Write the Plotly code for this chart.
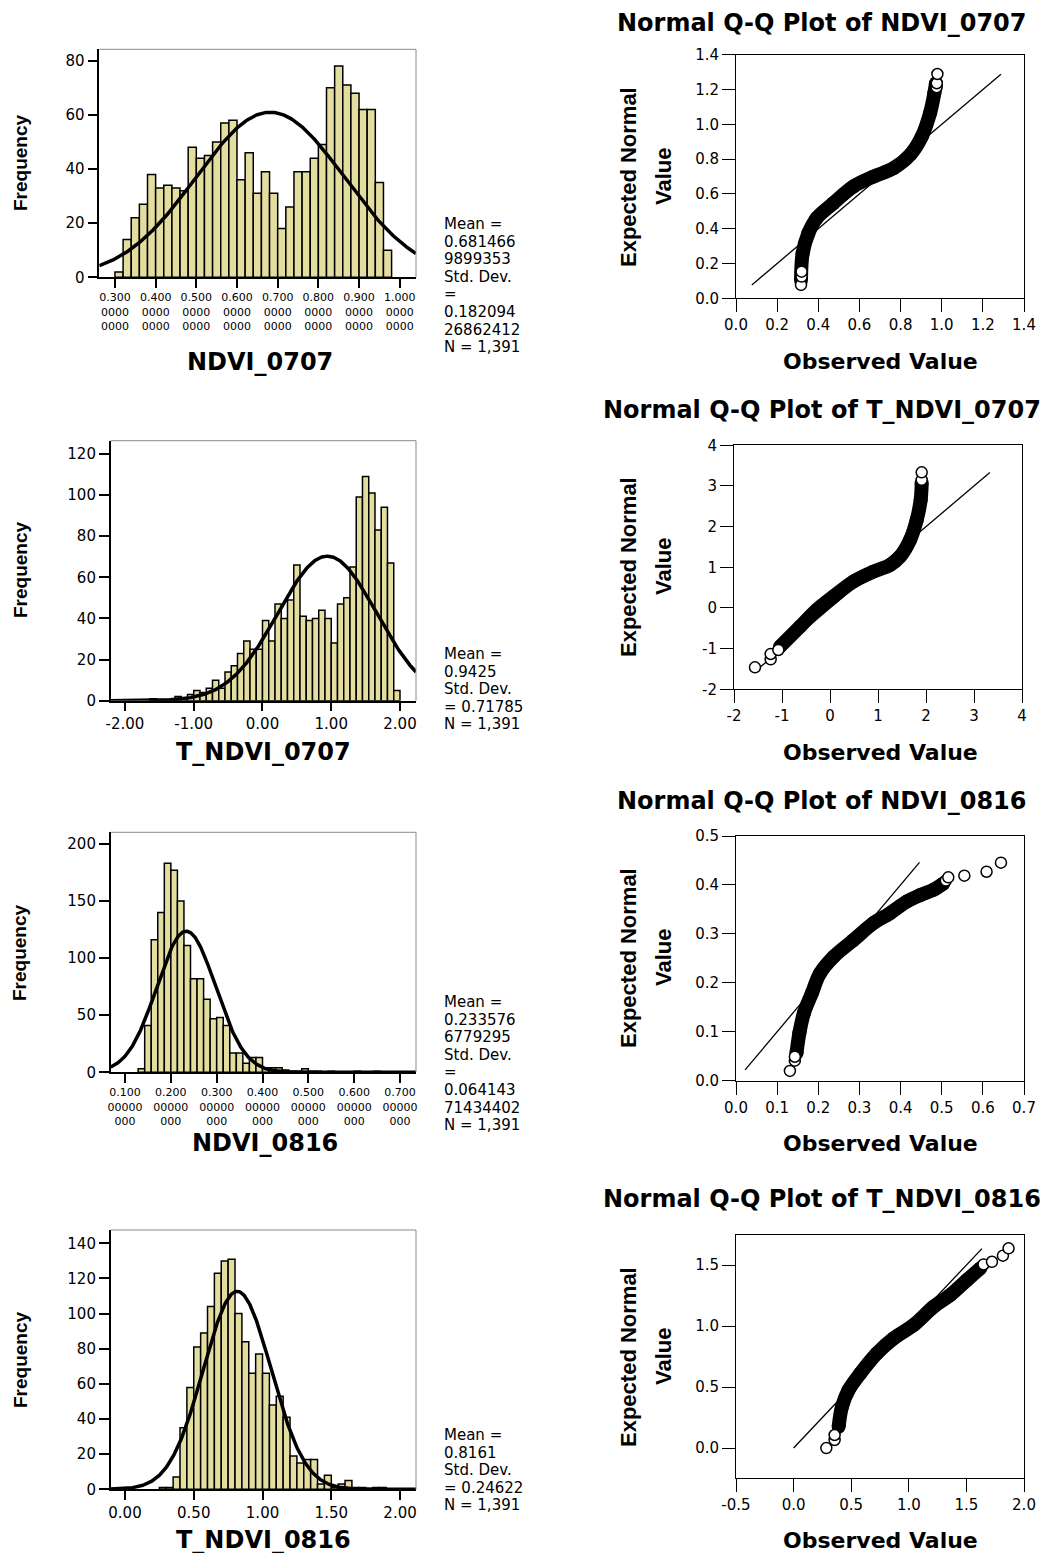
import numpy as np
import plotly.graph_objects as go

W, H = 1049, 1553
OFF = 8  # page body margin of the HTML page
FW, FH = W - OFF, H - OFF
N_TOTAL = 1391

# ---------------- data ----------------
# Histogram 1: NDVI_0707
h1_start, h1_width = 0.30, 0.02
h1_counts = [2, 14, 22, 27, 38, 33, 34, 33, 32, 48, 44, 45, 50, 57, 58, 36, 46, 31, 39, 31,
             18, 26, 39, 39, 44, 49, 70, 78, 71, 68, 62, 62, 35, 10]
h1_mean, h1_sd = 0.6814669899353, 0.18209426862412
h1_ticks = [0.3, 0.4, 0.5, 0.6, 0.7, 0.8, 0.9, 1.0]
h1_ticktext = ["0.300<br>0000<br>0000", "0.400<br>0000<br>0000", "0.500<br>0000<br>0000",
               "0.600<br>0000<br>0000", "0.700<br>0000<br>0000", "0.800<br>0000<br>0000",
               "0.900<br>0000<br>0000", "1.000<br>0000<br>0000"]
h1_yticks = [0, 20, 40, 60, 80]
h1_stats = ["Mean =", "0.681466", "9899353", "Std. Dev.", "=", "0.182094", "26862412", "N = 1,391"]

# Histogram 2: T_NDVI_0707
h2_start, h2_width = -18 / 11, 1 / 11
h2_counts = [1, 0, 0, 0, 2, 1, 3, 5, 4, 6, 10, 6, 14, 17, 23, 29, 25, 25,
             39, 29, 47, 40, 49, 66, 41, 39, 40, 44, 40, 28, 47, 50, 65, 99, 109, 101, 83, 94, 67, 5]
h2_mean, h2_sd = 0.9425, 0.71785
h2_ticks = [-2, -1, 0, 1, 2]
h2_ticktext = ["-2.00", "-1.00", "0.00", "1.00", "2.00"]
h2_yticks = [0, 20, 40, 60, 80, 100, 120]
h2_stats = ["Mean =", "0.9425", "Std. Dev.", "= 0.71785", "N = 1,391"]

# Histogram 3: NDVI_0816
h3_start, h3_width = 0.2 - 5 / 70, 1 / 70
h3_counts = [3, 41, 116, 140, 183, 177, 150, 111, 82, 82, 64, 47, 48, 41, 17, 17, 8, 13, 13,
             4, 4, 4, 2, 1, 1, 3, 1, 1, 0, 1, 0, 0, 0, 1, 0, 0, 1]
h3_mean, h3_sd = 0.2335766779295, 0.06414371434402
h3_ticks = [0.1, 0.2, 0.3, 0.4, 0.5, 0.6, 0.7]
h3_ticktext = ["0.100<br>00000<br>000", "0.200<br>00000<br>000", "0.300<br>00000<br>000",
               "0.400<br>00000<br>000", "0.500<br>00000<br>000", "0.600<br>00000<br>000",
               "0.700<br>00000<br>000"]
h3_yticks = [0, 50, 100, 150, 200]
h3_stats = ["Mean =", "0.233576", "6779295", "Std. Dev.", "=", "0.064143", "71434402", "N = 1,391"]

# Histogram 4: T_NDVI_0816
h4_start, h4_width = 0.25, 0.05
h4_counts = [1, 1, 7, 35, 58, 81, 89, 104, 123, 130, 131, 100, 84, 66, 77, 66, 48, 53, 41, 19,
             15, 17, 17, 3, 8, 1, 3, 5, 1, 1, 0, 1, 1]
h4_mean, h4_sd = 0.8161, 0.24622
h4_ticks = [0, 0.5, 1.0, 1.5, 2.0]
h4_ticktext = ["0.00", "0.50", "1.00", "1.50", "2.00"]
h4_yticks = [0, 20, 40, 60, 80, 100, 120, 140]
h4_stats = ["Mean =", "0.8161", "Std. Dev.", "= 0.24622", "N = 1,391"]

# Q-Q plot 1: NDVI_0707 (dense band + individual tail points)
q1_band_obs = [0.316, 0.324, 0.352, 0.392, 0.473, 0.570, 0.668, 0.765, 0.846, 0.903, 0.943, 0.964, 0.972]
q1_band_exp = [0.105, 0.259, 0.374, 0.460, 0.546, 0.642, 0.699, 0.747, 0.824, 0.929, 1.063, 1.178, 1.236]
q1_pts_obs = [0.316, 0.319, 0.319, 0.975, 0.976, 0.979]
q1_pts_exp = [0.077, 0.125, 0.153, 1.213, 1.236, 1.289]
q1_line = [0.077, 1.288]

# Q-Q plot 2: T_NDVI_0707
q2_band_obs = [-1.042, -0.625, -0.278, 0.069, 0.486, 0.903, 1.250, 1.458, 1.667, 1.806, 1.889, 1.910]
q2_band_exp = [-0.951, -0.459, -0.049, 0.279, 0.648, 0.893, 1.057, 1.262, 1.672, 2.164, 2.656, 3.066]
q2_pts_obs = [-1.563, -1.236, -1.236, -1.076, 1.910, 1.910]
q2_pts_exp = [-1.459, -1.262, -1.131, -1.033, 3.150, 3.336]
q2_line = [-1.55, 3.33]

# Q-Q plot 3: NDVI_0816
q3_band_obs = [0.147, 0.154, 0.165, 0.184, 0.204, 0.237, 0.285, 0.334, 0.374, 0.415, 0.447, 0.480, 0.504]
q3_band_exp = [0.056, 0.097, 0.138, 0.178, 0.219, 0.253, 0.287, 0.322, 0.342, 0.366, 0.379, 0.390, 0.403]
q3_pts_obs = [0.131, 0.143, 0.143, 0.510, 0.516, 0.555, 0.609, 0.644]
q3_pts_exp = [0.020, 0.041, 0.049, 0.409, 0.4155, 0.419, 0.427, 0.4455]
q3_line = [0.022, 0.446]

# Q-Q plot 4: T_NDVI_0816
q4_band_obs = [0.391, 0.420, 0.477, 0.579, 0.723, 0.868, 1.042, 1.215, 1.360, 1.505, 1.620]
q4_band_exp = [0.175, 0.339, 0.475, 0.612, 0.776, 0.899, 1.008, 1.158, 1.254, 1.377, 1.473]
q4_pts_obs = [0.284, 0.356, 0.356, 1.649, 1.722, 1.817, 1.866]
q4_pts_exp = [0.000, 0.066, 0.107, 1.505, 1.527, 1.577, 1.637]
q4_line = [0.0, 1.635]

# ---------------- layout helpers ----------------
FONT = "DejaVu Sans"
BAR_COLOR = "#e3dda0"


def px(xp):
    return (xp - OFF) / FW


def py(yp):
    return 1 - (yp - OFF) / FH


def dom_x(l, r):
    return [px(l), px(r)]


def dom_y(t, b):
    return [py(b), py(t)]


def axnames(i):
    s = "" if i == 1 else str(i)
    return f"x{s}", f"y{s}", f"xaxis{s}", f"yaxis{s}"


fig = go.Figure()
annotations = []
shapes = []

hists = [
    dict(start=h1_start, w=h1_width, counts=h1_counts, mean=h1_mean, sd=h1_sd, ticks=h1_ticks,
         ticktext=h1_ticktext, yticks=h1_yticks, stats=h1_stats, xr=[0.2615, 1.040], yr=[0, 84.2],
         box=(99.3, 416, 49.3, 277.3), tickfont=11, title="NDVI_0707", title_xy=(260, 362),
         freq_y=163, stats_y=224),
    dict(start=h2_start, w=h2_width, counts=h2_counts, mean=h2_mean, sd=h2_sd, ticks=h2_ticks,
         ticktext=h2_ticktext, yticks=h2_yticks, stats=h2_stats, xr=[-2.208, 2.233], yr=[0, 126.4],
         box=(110.7, 416, 440.7, 700.7), tickfont=15, title="T_NDVI_0707", title_xy=(263, 752),
         freq_y=570, stats_y=654),
    dict(start=h3_start, w=h3_width, counts=h3_counts, mean=h3_mean, sd=h3_sd, ticks=h3_ticks,
         ticktext=h3_ticktext, yticks=h3_yticks, stats=h3_stats, xr=[0.0687, 0.735], yr=[0, 210.2],
         box=(110.7, 416, 832.3, 1072.3), tickfont=11, title="NDVI_0816", title_xy=(265, 1143),
         freq_y=953, stats_y=1002),
    dict(start=h4_start, w=h4_width, counts=h4_counts, mean=h4_mean, sd=h4_sd, ticks=h4_ticks,
         ticktext=h4_ticktext, yticks=h4_yticks, stats=h4_stats, xr=[-0.104, 2.116], yr=[0, 147.6],
         box=(110.7, 416, 1230, 1489.3), tickfont=15, title="T_NDVI_0816", title_xy=(263, 1540),
         freq_y=1360, stats_y=1435),
]

qqs = [
    dict(bo=q1_band_obs, be=q1_band_exp, po=q1_pts_obs, pe=q1_pts_exp, line=q1_line,
         xr=[0, 1.4], yr=[0, 1.4], xt=[0, 0.2, 0.4, 0.6, 0.8, 1.0, 1.2, 1.4], yt=[0, 0.2, 0.4, 0.6, 0.8, 1.0, 1.2, 1.4],
         xfmt=".1f", yfmt=".1f", xtt=None, box=(736, 1024, 54.7, 298.3),
         title="Normal Q-Q Plot of NDVI_0707", title_y=23, title_size=24, yl_y=177, obs_y=362),
    dict(bo=q2_band_obs, be=q2_band_exp, po=q2_pts_obs, pe=q2_pts_exp, line=q2_line,
         xr=[-2, 4], yr=[-2, 4], xt=[-2, -1, 0, 1, 2, 3, 4], yt=[-2, -1, 0, 1, 2, 3, 4],
         xfmt="d", yfmt="d", xtt=["-2", "-1", "0", "1", "2", "3", "4"], box=(734, 1022, 445.3, 689.3),
         title="Normal Q-Q Plot of T_NDVI_0707", title_y=410, title_size=24, yl_y=567, obs_y=752),
    dict(bo=q3_band_obs, be=q3_band_exp, po=q3_pts_obs, pe=q3_pts_exp, line=q3_line,
         xr=[0, 0.7], yr=[0, 0.5], xt=[0, 0.1, 0.2, 0.3, 0.4, 0.5, 0.6, 0.7], yt=[0, 0.1, 0.2, 0.3, 0.4, 0.5],
         xfmt=".1f", yfmt=".1f", xtt=None, box=(736, 1024, 836, 1080.7),
         title="Normal Q-Q Plot of NDVI_0816", title_y=801, title_size=24, yl_y=958, obs_y=1143),
    dict(bo=q4_band_obs, be=q4_band_exp, po=q4_pts_obs, pe=q4_pts_exp, line=q4_line,
         xr=[-0.5, 2.0], yr=[-0.243, 1.749], xt=[-0.5, 0, 0.5, 1.0, 1.5, 2.0], yt=[0, 0.5, 1.0, 1.5],
         xfmt=".1f", yfmt=".1f", xtt=["-0.5", "0.0", "0.5", "1.0", "1.5", "2.0"], box=(736, 1024, 1234.7, 1477.7),
         title="Normal Q-Q Plot of T_NDVI_0816", title_y=1199, title_size=24, yl_y=1357, obs_y=1540),
]

layout_axes = {}
ax_idx = 0
for i in range(4):
    # ---------- histogram ----------
    ax_idx += 1
    h = hists[i]
    xa, ya, xk, yk = axnames(ax_idx)
    counts = np.array(h["counts"], dtype=float)
    centers = h["start"] + (np.arange(len(counts)) + 0.5) * h["w"]
    fig.add_trace(go.Bar(x=centers, y=counts, width=h["w"], xaxis=xa, yaxis=ya,
                         marker=dict(color=BAR_COLOR, line=dict(color="black", width=1.5)),
                         showlegend=False))
    xs = np.linspace(h["xr"][0], h["xr"][1], 400)
    ys = N_TOTAL * h["w"] / (h["sd"] * np.sqrt(2 * np.pi)) * np.exp(-0.5 * ((xs - h["mean"]) / h["sd"]) ** 2)
    fig.add_trace(go.Scatter(x=xs, y=ys, mode="lines", xaxis=xa, yaxis=ya,
                             line=dict(color="black", width=3.5), showlegend=False))
    l, r, t, b = h["box"]
    layout_axes[xk] = dict(domain=dom_x(l, r), range=h["xr"], anchor=ya, showgrid=False, zeroline=False,
                           automargin=False,
                           showline=True, linecolor="black", linewidth=1.5, ticks="outside", ticklen=9,
                           tickwidth=2, tickcolor="black", tickvals=h["ticks"], ticktext=h["ticktext"],
                           tickfont=dict(family=FONT, size=h["tickfont"], color="black"))
    layout_axes[yk] = dict(domain=dom_y(t, b), range=h["yr"], anchor=xa, showgrid=False, zeroline=False,
                           automargin=False,
                           showline=True, linecolor="black", linewidth=1.5, ticks="outside", ticklen=10,
                           tickwidth=2, tickcolor="black", tickvals=h["yticks"],
                           tickfont=dict(family=FONT, size=15, color="black"))
    shapes.append(dict(type="line", xref=f"{xa} domain", yref=f"{ya} domain", x0=0, x1=1, y0=1, y1=1,
                       line=dict(color="#8a8a8a", width=1)))
    shapes.append(dict(type="line", xref=f"{xa} domain", yref=f"{ya} domain", x0=1, x1=1, y0=0, y1=1,
                       line=dict(color="#8a8a8a", width=1)))
    annotations.append(dict(text=h["title"], x=px(h["title_xy"][0]), y=py(h["title_xy"][1]), xref="paper",
                            yref="paper", showarrow=False, xanchor="center", yanchor="middle",
                            font=dict(family=FONT, size=24, color="black", weight="bold")))
    annotations.append(dict(text="Frequency", x=px(20), y=py(h["freq_y"]), xref="paper", yref="paper",
                            showarrow=False, textangle=-90, xanchor="center", yanchor="middle",
                            font=dict(family="Liberation Sans", size=19,
                                      color="black", weight="bold")))
    for k, s in enumerate(h["stats"]):
        annotations.append(dict(text=s, x=px(442), y=py(h["stats_y"] + 17.6 * k), xref="paper", yref="paper",
                                showarrow=False, xanchor="left", yanchor="middle",
                                font=dict(family=FONT, size=15, color="black")))

    # ---------- Q-Q plot ----------
    ax_idx += 1
    q = qqs[i]
    xa, ya, xk, yk = axnames(ax_idx)
    fig.add_trace(go.Scatter(x=q["line"], y=q["line"], mode="lines", xaxis=xa, yaxis=ya,
                             line=dict(color="black", width=1.3), showlegend=False))
    fig.add_trace(go.Scatter(x=q["bo"], y=q["be"], mode="lines+markers", xaxis=xa, yaxis=ya,
                             line=dict(color="black", width=14, shape="spline"),
                             marker=dict(symbol="circle", size=14, color="black"), showlegend=False))
    fig.add_trace(go.Scatter(x=q["po"], y=q["pe"], mode="markers", xaxis=xa, yaxis=ya,
                             marker=dict(symbol="circle", size=11, color="white",
                                         line=dict(color="black", width=1.5)), showlegend=False))
    l, r, t, b = q["box"]
    xax = dict(domain=dom_x(l, r), range=q["xr"], anchor=ya, showgrid=False, zeroline=False,
               automargin=False,
               showline=True, mirror=True, linecolor="black", linewidth=1, ticks="outside", ticklen=13,
               tickwidth=1.2, tickcolor="black", tickvals=q["xt"],
               tickfont=dict(family=FONT, size=15, color="black"))
    if q["xtt"]:
        xax["ticktext"] = q["xtt"]
    else:
        xax["tickformat"] = q["xfmt"]
    yax = dict(domain=dom_y(t, b), range=q["yr"], anchor=xa, showgrid=False, zeroline=False,
               automargin=False,
               showline=True, mirror=True, linecolor="black", linewidth=1, ticks="outside", ticklen=13,
               tickwidth=1.2, tickcolor="black", tickvals=q["yt"],
               tickfont=dict(family=FONT, size=15, color="black"))
    if q["yfmt"] == "d":
        yax["ticktext"] = [str(v) for v in q["yt"]]
    else:
        yax["tickformat"] = q["yfmt"]
    layout_axes[xk] = xax
    layout_axes[yk] = yax
    annotations.append(dict(text=q["title"], x=px(821.5), y=py(q["title_y"]), xref="paper", yref="paper",
                            showarrow=False, xanchor="center", yanchor="middle", borderpad=0,
                            font=dict(family=FONT, size=q["title_size"], color="black", weight="bold")))
    annotations.append(dict(text="Expected Normal", x=px(628), y=py(q["yl_y"]), xref="paper", yref="paper",
                            showarrow=False, textangle=-90, xanchor="center", yanchor="middle",
                            font=dict(family="Liberation Sans", size=22, color="black", weight="bold")))
    annotations.append(dict(text="Value", x=px(663), y=py(q["yl_y"]), xref="paper", yref="paper",
                            showarrow=False, textangle=-90, xanchor="center", yanchor="middle",
                            font=dict(family="Liberation Sans", size=22, color="black", weight="bold")))
    annotations.append(dict(text="Observed Value", x=px(880), y=py(q["obs_y"]), xref="paper", yref="paper",
                            showarrow=False, xanchor="center", yanchor="middle",
                            font=dict(family=FONT, size=22, color="black", weight="bold")))

fig.update_layout(width=FW, height=FH, margin=dict(l=0, r=0, t=0, b=0, pad=0, autoexpand=False),
                  paper_bgcolor="white",
                  plot_bgcolor="white", showlegend=False, annotations=annotations, shapes=shapes,
                  barmode="overlay", **layout_axes)

fig.write_html("out.html")
